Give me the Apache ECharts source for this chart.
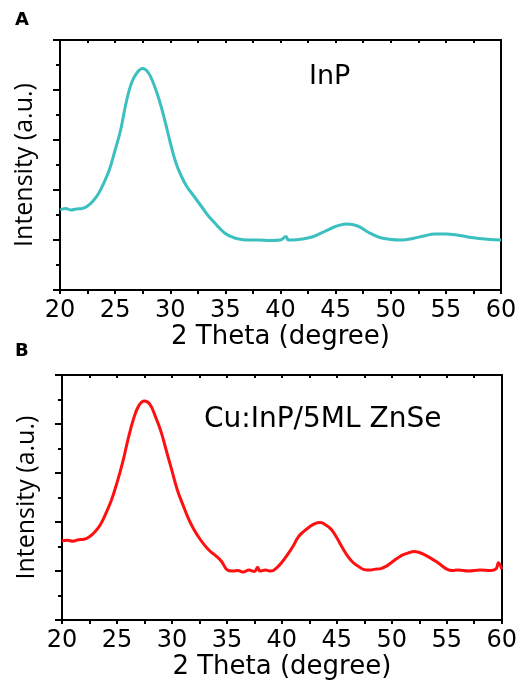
<!DOCTYPE html>
<html><head><meta charset="utf-8">
<script src="https://cdn.jsdelivr.net/npm/echarts@6/dist/echarts.min.js"></script>
<style>html,body{margin:0;padding:0;background:#fff}#c{width:520px;height:681px}</style>
</head><body><div id="c"></div>
<script>
const xTicks = [20, 25, 30, 35, 40, 45, 50, 55, 60];
const thetaA = [20,20.5,21,21.5,22,22.5,23,23.5,24,24.5,25,25.5,26,26.5,27,27.5,28,28.5,29,29.5,30,30.5,31,31.5,32,32.5,33,33.5,34,34.5,35,35.5,36,37,38,39,40,40.5,40.7,41,42,43,44,45,46,47,48,49,50,51,52,53,54,55,56,57,58,59,60];
const inpIntensity = [1.6,1.63,1.6,1.62,1.63,1.68,1.78,1.93,2.15,2.42,2.8,3.2,3.75,4.15,4.35,4.43,4.35,4.12,3.8,3.4,2.95,2.55,2.28,2.07,1.92,1.77,1.62,1.47,1.35,1.23,1.13,1.07,1.03,1.0,1.0,0.99,1.0,1.07,1.0,1.0,1.02,1.07,1.17,1.27,1.32,1.28,1.15,1.05,1.01,1.0,1.03,1.08,1.12,1.12,1.1,1.06,1.03,1.01,1.0];
const thetaB = [20,20.5,21,21.5,22,22.5,23,23.5,24,24.5,25,25.5,26,26.5,27,27.5,28,28.5,29,29.5,30,30.5,31,31.5,32,32.5,33,33.5,34,34.5,35,35.5,36,36.5,37,37.5,37.8,38,38.5,39,39.5,40,40.5,41,41.5,42,42.5,43,43.5,44,44.5,45,45.5,46,46.5,47,47.5,48,48.5,49,49.5,50,50.5,51,51.5,52,52.5,53,53.5,54,54.5,55,55.5,56,57,58,59,59.5,59.7,60];
const cuInpIntensity = [1.62,1.63,1.61,1.64,1.65,1.7,1.8,1.95,2.18,2.45,2.8,3.2,3.68,4.1,4.38,4.47,4.4,4.15,3.85,3.45,3.05,2.65,2.35,2.07,1.85,1.67,1.52,1.4,1.31,1.2,1.03,1.0,1.01,0.98,1.02,0.99,1.08,1.0,1.02,1.0,1.06,1.18,1.33,1.5,1.7,1.81,1.9,1.97,1.99,1.94,1.85,1.68,1.48,1.3,1.17,1.09,1.03,1.02,1.04,1.05,1.1,1.18,1.26,1.33,1.37,1.4,1.38,1.33,1.27,1.2,1.12,1.04,1.01,1.02,1.0,1.02,1.01,1.05,1.17,1.04];
const labelA = 'InP';
const labelB = 'Cu:InP/5ML ZnSe';
const panelA = 'A';
const panelB = 'B';
const xName = '2 Theta (degree)';
const yName = 'Intensity (a.u.)';

const FONT = 'DejaVu Sans';
const YFONT = 'Open Sans';
const chart = echarts.init(document.getElementById('c'), null, {renderer: 'canvas'});
function xAxisBottom(gi) {
  return {
    type: 'value', gridIndex: gi, min: xTicks[0], max: xTicks[xTicks.length - 1], interval: 5,
    name: xName, nameLocation: 'middle', nameGap: 30,
    nameTextStyle: {fontFamily: FONT, fontSize: 26, color: '#000'},
    axisLine: {onZero: false, lineStyle: {color: '#000', width: 2}},
    axisTick: {inside: false, length: 4, lineStyle: {color: '#000', width: 2}},
    minorTick: {show: true, splitNumber: 2, length: 4, lineStyle: {color: '#000', width: 2}},
    axisLabel: {fontFamily: FONT, fontSize: 24, color: '#000', margin: 9,
      formatter: v => xTicks.indexOf(v) >= 0 ? String(v) : ''},
    splitLine: {show: false}
  };
}
function xAxisTop(gi) {
  return {
    type: 'value', gridIndex: gi, position: 'top', min: 20, max: 60, interval: 2.5,
    axisLine: {onZero: false, lineStyle: {color: '#000', width: 2}},
    axisTick: {inside: true, length: 3, lineStyle: {color: '#000', width: 2}},
    axisLabel: {show: false}, splitLine: {show: false}
  };
}
function yAxisLeft(gi) {
  return {
    type: 'value', gridIndex: gi, min: 0, max: 5, interval: 1,
    name: yName, nameLocation: 'middle', nameGap: 23,
    nameTextStyle: {fontFamily: YFONT, fontSize: 25, color: '#000'},
    axisLine: {onZero: false, lineStyle: {color: '#000', width: 2}},
    axisTick: {inside: false, length: 7, lineStyle: {color: '#000', width: 2}},
    minorTick: {show: true, splitNumber: 2, length: 4, lineStyle: {color: '#000', width: 2}},
    axisLabel: {show: false}, splitLine: {show: false}
  };
}
function yAxisRight(gi) {
  return {
    type: 'value', gridIndex: gi, position: 'right', min: 0, max: 5,
    axisLine: {show: true, onZero: false, lineStyle: {color: '#000', width: 2}},
    axisTick: {show: false}, axisLabel: {show: false}, splitLine: {show: false}
  };
}
function txt(str, left, top, size, weight) {
  return {type: 'text', left: left, top: top,
    style: {text: str, font: weight + ' ' + size + 'px "' + FONT + '"', fill: '#000'}};
}
const option = {
  animation: false,
  backgroundColor: '#fff',
  grid: [
    {left: 60, right: 19, top: 40, height: 250},
    {left: 62, right: 18, top: 375, height: 251}
  ],
  xAxis: [xAxisBottom(0), xAxisTop(0), xAxisBottom(1), xAxisTop(1)],
  yAxis: [yAxisLeft(0), yAxisRight(0), yAxisLeft(1), yAxisRight(1)],
  series: [
    {type: 'line', xAxisIndex: 0, yAxisIndex: 0, showSymbol: false, smooth: 0.4,
      data: thetaA.map((x, i) => [x, inpIntensity[i]]),
      lineStyle: {color: '#3BBFBF', width: 3}, itemStyle: {color: '#3BBFBF'}},
    {type: 'line', xAxisIndex: 2, yAxisIndex: 2, showSymbol: false, smooth: 0.4,
      data: thetaB.map((x, i) => [x, cuInpIntensity[i]]),
      lineStyle: {color: '#FF1010', width: 3}, itemStyle: {color: '#FF1010'}}
  ],
  graphic: [
    txt(panelA, 15, 11, 18, '700'),
    txt(panelB, 15, 342, 18, '700'),
    txt(labelA, 309, 63, 27, '400'),
    txt(labelB, 204, 406, 28, '400')
  ]
};
chart.setOption(option);
</script>
</body></html>
